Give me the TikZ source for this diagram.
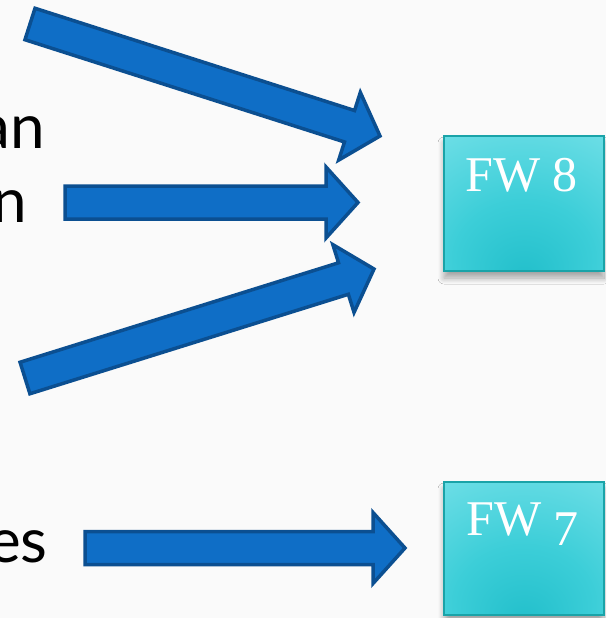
\documentclass[tikz,border=0pt]{standalone}
\usepackage{fontspec}
\setmainfont{Liberation Serif}
\newfontfamily\labfont{Lato}
\usetikzlibrary{calc,shadows.blur}
\definecolor{bgc}{HTML}{FAFAFA}
\definecolor{arrfill}{HTML}{0F6EC6}
\definecolor{arrline}{HTML}{0B4F91}
\definecolor{boxline}{HTML}{1AA3A8}
\definecolor{shA}{HTML}{22BFCB}
\definecolor{shB}{HTML}{3CCED8}
\definecolor{shC}{HTML}{70DFE7}
\definecolor{shD}{HTML}{BDF4F7}
\pgfdeclareradialshading{fwshade}{\pgfpoint{0bp}{-28bp}}{color(0bp)=(shA); color(22bp)=(shB); color(48bp)=(shC); color(88bp)=(shD)}
\newcommand\blockarrow[2]{%
  \coordinate (#1-b) at ($(#2)!32pt!(#1)$);
  \draw[barrow] ($(#1)!16.5pt!90:(#2)$) -- ($(#1-b)!16.5pt!90:(#2)$) -- ($(#1-b)!35.5pt!90:(#2)$) -- (#2)
    -- ($(#1-b)!35.5pt!-90:(#2)$) -- ($(#1-b)!16.5pt!-90:(#2)$) -- ($(#1)!16.5pt!-90:(#2)$) -- cycle;}
\begin{document}
\begin{tikzpicture}[x=1pt,y=-1pt,
  lab/.style={font=\labfont\fontsize{62}{74}\selectfont, inner sep=0pt, text=black},
  fwtext/.style={font=\fontsize{50}{60}\selectfont, text=white, inner sep=0pt},
  fwbox/.style={draw=boxline, line width=2pt, shading=fwshade, minimum width=160pt, minimum height=135pt, inner sep=0pt,
    blur shadow={shadow xshift=0pt, shadow yshift=-7pt, shadow blur radius=6pt, shadow blur steps=10, shadow opacity=35}},
  barrow/.style={fill=arrfill, draw=arrline, line width=3.5pt, line join=miter}]
\useasboundingbox (0,0) rectangle (606,618);
\clip (0,0) rectangle (606,618);
\fill[bgc] (0,0) rectangle (606,618);
% labels (cut off at left, as in the reference)
\node[lab, anchor=base east] (tan) at (45,148) {an};
\node[lab, anchor=base east] (tn) at (27,222) {n};
\node[lab, anchor=base east] (tes) at (48,562) {es};
% boxes
\node[fwbox] (fw8) at (524,203.5) {};
\node[fwbox, minimum height=133pt] (fw7) at (524,548.5) {};
\node[fwtext, anchor=base west] (fw8t) at (465,191) {FW 8};
\node[fwtext, anchor=base west] (fw7t) at (466,535) {FW \raisebox{-10pt}{7}};
% arrows
\coordinate (t1) at (30,24);  \coordinate (p1) at (380,136);
\coordinate (t2) at (65,202.5); \coordinate (p2) at (358,202.5);
\coordinate (t3) at (25,378); \coordinate (p3) at (374,269);
\coordinate (t4) at (85,548); \coordinate (p4) at (405,548);
\blockarrow{t1}{p1}
\blockarrow{t2}{p2}
\blockarrow{t3}{p3}
\blockarrow{t4}{p4}
\end{tikzpicture}
\end{document}
